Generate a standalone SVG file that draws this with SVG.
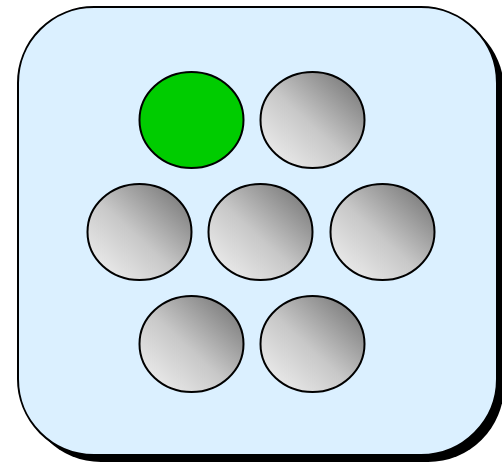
<svg xmlns="http://www.w3.org/2000/svg" width="502" height="463" viewBox="0 0 502 463">
<defs>
<linearGradient id="g" x1="0.15" y1="0.85" x2="0.85" y2="0.15">
<stop offset="0" stop-color="#e6e6e6"/>
<stop offset="0.45" stop-color="#c8c8c8"/>
<stop offset="1" stop-color="#858585"/>
</linearGradient>
<style>
.c{fill:url(#g);stroke:#000;stroke-width:2}
.on{fill:#00cc00;stroke:#000;stroke-width:2}
</style>
</defs>
<rect width="502" height="463" fill="#fff"/>
<g id="panel">
<rect x="25" y="14" width="479" height="448" rx="76" ry="76" fill="#000"/>
<rect x="18" y="7" width="479" height="448" rx="76" ry="76" fill="#dbf0ff" stroke="#000" stroke-width="2"/>
</g>
<g id="n1"><ellipse class="on" cx="191.5" cy="120" rx="52" ry="48"/></g>
<g id="n2"><ellipse class="c" cx="312.5" cy="120" rx="52" ry="48"/></g>
<g id="n3"><ellipse class="c" cx="139.5" cy="232" rx="52" ry="48"/></g>
<g id="n4"><ellipse class="c" cx="260.5" cy="232" rx="52" ry="48"/></g>
<g id="n5"><ellipse class="c" cx="382.5" cy="232" rx="52" ry="48"/></g>
<g id="n6"><ellipse class="c" cx="191.5" cy="344" rx="52" ry="48"/></g>
<g id="n7"><ellipse class="c" cx="312.5" cy="344" rx="52" ry="48"/></g>
<g id="connectors"/>
</svg>
